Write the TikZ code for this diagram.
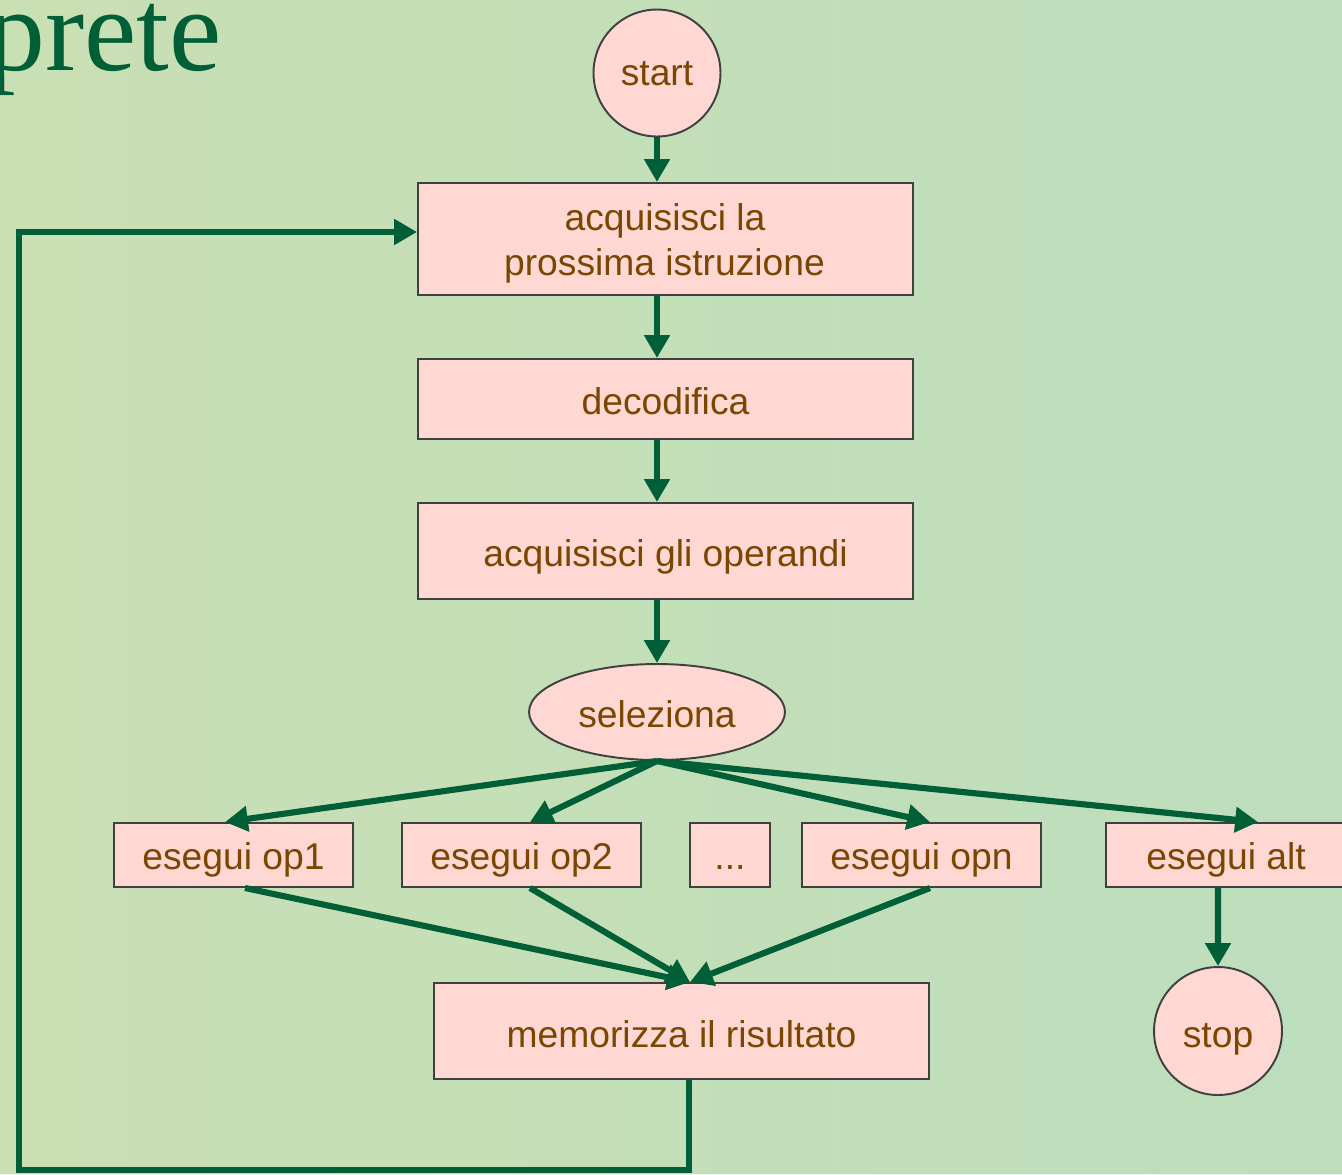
\documentclass[tikz,border=0pt]{standalone}
\usepackage{fontspec}
\setmainfont{Liberation Sans}
\newfontfamily\titlefont{Liberation Serif}
\usetikzlibrary{shapes.geometric,arrows.meta}
\definecolor{bg}{HTML}{C6DDBA}
\definecolor{boxfill}{HTML}{FFD8D4}
\definecolor{txt}{HTML}{7A4600}
\definecolor{flowc}{HTML}{005F36}
\definecolor{edge}{HTML}{404040}
\tikzset{
  labelfont/.style={text=txt, font=\fontsize{21.2}{25.5}\selectfont},
  box/.style={draw=edge, line width=1.1pt, fill=boxfill, labelfont, rectangle,
    inner sep=0pt, text height=18pt, text depth=0pt},
  round/.style={box, circle},
  oval/.style={box, ellipse},
  flow/.style={draw=flowc, line width=3.5pt, line join=miter,
    -{Triangle[length=13pt,width=14pt]}},
}
\begin{document}
\begin{tikzpicture}[x=0.02cm,y=-0.02cm]
\fill[bg] (0,0) rectangle (1342,1174);
\useasboundingbox (0,0) rectangle (1342,1174);
\shade[left color=bg!85!yellow!90!white, right color=bg!85!cyan, opacity=0.3] (0,0) rectangle (1342,1174);

\node[anchor=base east, inner sep=0pt, text=flowc, font=\titlefont\fontsize{67}{67}\selectfont] (title) at (222,70) {prete};

\node[round, minimum size=2.54cm, text height=14.6pt] (start) at (657,73) {start};
\node[box, minimum width=9.9cm, minimum height=2.24cm] (acq) at (665.5,239) {};
\node[labelfont, anchor=base, inner sep=0pt] (acqa) at (665,230) {acquisisci la};
\node[labelfont, anchor=base, inner sep=0pt] (acqb) at (664.5,275) {prossima istruzione};
\node[box, minimum width=9.9cm, minimum height=1.6cm] (dec) at (665.5,399) {decodifica};
\node[box, minimum width=9.9cm, minimum height=1.92cm] (ope) at (665.5,551) {acquisisci gli operandi};
\node[oval, minimum width=5.12cm, minimum height=1.92cm] (sel) at (657,712) {seleziona};
\node[box, minimum width=4.78cm, minimum height=1.28cm, text height=17pt] (op1) at (233.5,855) {esegui op1};
\node[box, minimum width=4.78cm, minimum height=1.28cm, text height=17pt] (op2) at (521.5,855) {esegui op2};
\node[box, minimum width=1.6cm, minimum height=1.28cm, text height=17pt] (dots) at (730,855) {...};
\node[box, minimum width=4.78cm, minimum height=1.28cm, text height=17pt] (opn) at (921.5,855) {esegui opn};
\node[box, minimum width=4.8cm, minimum height=1.28cm, text height=17pt] (alt) at (1226,855) {esegui alt};
\node[box, minimum width=9.9cm, minimum height=1.92cm, text height=18.5pt] (mem) at (681.5,1031) {memorizza il risultato};
\node[round, minimum size=2.56cm, text height=19pt] (stop) at (1218,1031) {stop};
\coordinate (corner) at (19,1170);

\draw[flow] (start) -- (start |- acq.north);
\draw[flow] (start |- acq.south) -- (start |- dec.north);
\draw[flow] (start |- dec.south) -- (start |- ope.north);
\draw[flow] (start |- ope.south) -- (sel.north);
\draw[flow] (sel.south) -- ([xshift=-0.17cm]op1.north);
\draw[flow] (sel.south) -- ([xshift=0.17cm]op2.north);
\draw[flow] (sel.south) -- ([xshift=0.17cm]opn.north);
\draw[flow] (sel.south) -- ([xshift=0.64cm]alt.north);
\draw[flow] ([xshift=0.23cm]op1.south) -- ([xshift=0.17cm]mem.north);
\draw[flow] ([xshift=0.17cm]op2.south) -- ([xshift=0.17cm]mem.north);
\draw[flow] ([xshift=0.17cm]opn.south) -- ([xshift=0.17cm]mem.north);
\draw[flow] ([xshift=-0.16cm]alt.south) -- (stop.north);
\draw[flow] ([xshift=0.15cm]mem.south) |- (corner) |- ([yshift=0.14cm]acq.west);
\end{tikzpicture}
\end{document}
